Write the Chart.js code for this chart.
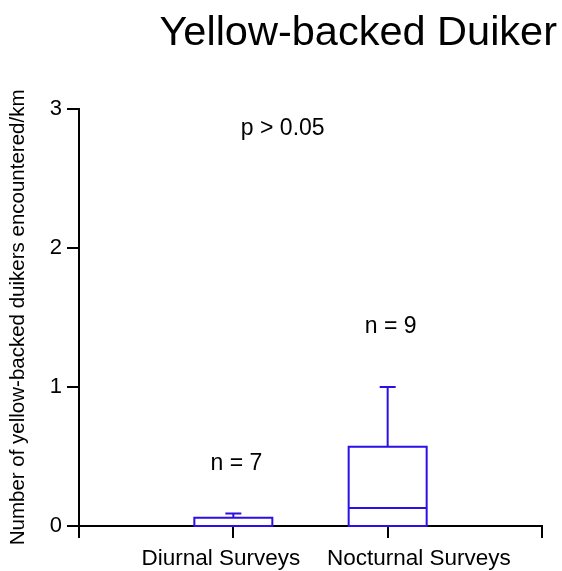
<!DOCTYPE html>
<html>
<head>
<meta charset="utf-8">
<script src="https://cdn.jsdelivr.net/npm/chart.js@4"></script>
<style>
  html, body { margin: 0; padding: 0; background: #fff; }
  #wrap { width: 562px; height: 571px; }
</style>
</head>
<body>
<div id="wrap"><canvas id="grafico" width="562" height="571"></canvas></div>
<script>
// Dados do box plot
const categorias = ['Diurnal Surveys', 'Nocturnal Surveys'];
const posicoes = [1, 2];
const minimos = [0, 0];
const quartil1 = [0, 0];
const medianas = [0, 0.13];
const quartil3 = [0.06, 0.57];
const maximos = [0.09, 1.0];

// Anotações de texto (em coordenadas dos dados)
const anotTextos = ['p > 0.05', 'n = 7', 'n = 9'];
const anotX = [1.32, 1.02, 2.02];
const anotY = [2.86, 0.45, 1.43];

const yTicks = [0, 1, 2, 3];

const AZUL = '#2b0fe6';
const FONTE = "'Liberation Sans', Arial, sans-serif";

// Plugin que desenha caixas, bigodes, medianas e anotações usando as escalas
const boxPlugin = {
    id: 'boxExtras',
    afterDatasetsDraw(chart) {
        const ctx = chart.ctx;
        const x = chart.scales.x;
        const y = chart.scales.y;
        const barras = chart.getDatasetMeta(0).data;
        const capa = 8;
        ctx.save();
        ctx.strokeStyle = AZUL;
        ctx.lineWidth = 2;
        for (let i = 0; i < posicoes.length; i++) {
            const cx = x.getPixelForValue(posicoes[i]);
            const meia = barras[i].width / 2;
            const yTopo = y.getPixelForValue(quartil3[i]);
            const yBase = y.getPixelForValue(quartil1[i]);
            ctx.beginPath();
            // caixa
            ctx.rect(cx - meia, yTopo, meia * 2, yBase - yTopo);
            // bigode superior
            ctx.moveTo(cx, yTopo);
            ctx.lineTo(cx, y.getPixelForValue(maximos[i]));
            ctx.moveTo(cx - capa, y.getPixelForValue(maximos[i]));
            ctx.lineTo(cx + capa, y.getPixelForValue(maximos[i]));
            // bigode inferior
            ctx.moveTo(cx, yBase);
            ctx.lineTo(cx, y.getPixelForValue(minimos[i]));
            // mediana
            ctx.moveTo(cx - meia, y.getPixelForValue(medianas[i]));
            ctx.lineTo(cx + meia, y.getPixelForValue(medianas[i]));
            ctx.stroke();
        }
        ctx.fillStyle = '#000';
        ctx.font = '23px ' + FONTE;
        ctx.textAlign = 'center';
        ctx.textBaseline = 'middle';
        for (let i = 0; i < anotTextos.length; i++) {
            ctx.fillText(anotTextos[i], x.getPixelForValue(anotX[i]), y.getPixelForValue(anotY[i]));
        }
        ctx.restore();
    }
};

function criarGrafico() {
    const ctx = document.getElementById('grafico').getContext('2d');

    Chart.defaults.font.family = FONTE;
    Chart.defaults.color = '#000';

    new Chart(ctx, {
        type: 'bar',
        data: {
            datasets: [{
                data: posicoes.map((p, i) => ({ x: p, y: [quartil1[i], quartil3[i]] })),
                backgroundColor: 'rgba(0,0,0,0)',
                borderWidth: 0,
                barThickness: 78
            }]
        },
        options: {
            responsive: false,
            animation: false,
            layout: { padding: { left: 0, right: 5, top: 0, bottom: 0 } },
            plugins: {
                legend: { display: false },
                tooltip: { enabled: false },
                title: {
                    display: true,
                    text: 'Yellow-backed Duiker',
                    align: 'end',
                    font: { size: 41.5, weight: 'normal' },
                    color: '#000',
                    padding: { top: 9, bottom: 50 }
                }
            },
            scales: {
                x: {
                    type: 'linear',
                    min: 0,
                    max: 3,
                    offset: false,
                    afterFit: s => { s.height = 45; },
                    afterBuildTicks: s => { s.ticks = [0, 1, 2, 3].map(v => ({ value: v })); },
                    ticks: {
                        font: { size: 22.5 },
                        padding: 7,
                        maxRotation: 0,
                        autoSkip: false,
                        callback: v => {
                            if (v === 1) return categorias[0] + '    ';
                            if (v === 2) return '          ' + categorias[1];
                            return '';
                        }
                    },
                    grid: { offset: false, drawOnChartArea: false, drawTicks: true, tickLength: 12, color: '#000', lineWidth: 2 },
                    border: { display: true, color: '#000', width: 2 }
                },
                y: {
                    min: 0,
                    max: 3,
                    afterFit: s => { s.width = 79; },
                    afterBuildTicks: s => { s.ticks = yTicks.map(v => ({ value: v })); },
                    ticks: { font: { size: 22 }, padding: 5 },
                    grid: { drawOnChartArea: false, drawTicks: true, tickLength: 12, color: '#000', lineWidth: 2 },
                    border: { display: true, color: '#000', width: 2 },
                    title: {
                        display: true,
                        text: 'Number of yellow-backed duikers encountered/km',
                        font: { size: 20.5 },
                        padding: { top: 6, bottom: 0 }
                    }
                },
                direita: {
                    type: 'linear',
                    position: 'right',
                    display: true,
                    afterFit: s => { s.width = 15; },
                    ticks: { display: false },
                    grid: { display: false },
                    border: { display: false }
                }
            }
        },
        plugins: [boxPlugin]
    });
}

criarGrafico();
</script>
</body>
</html>
